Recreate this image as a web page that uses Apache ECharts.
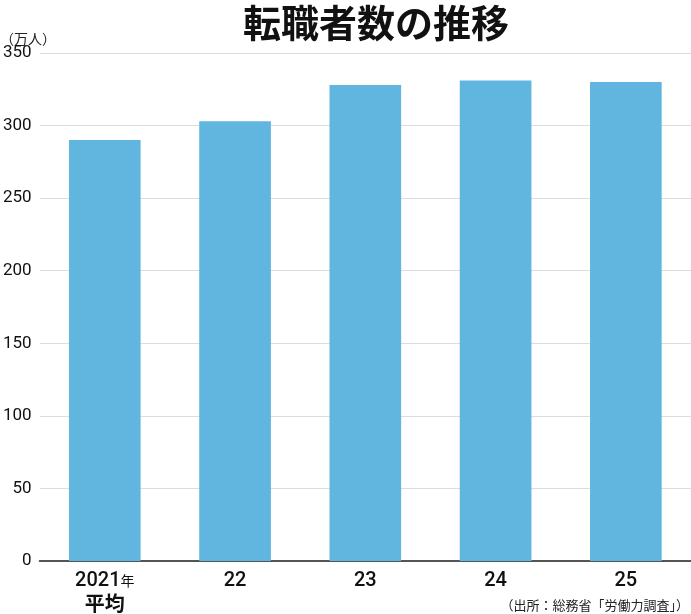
<!DOCTYPE html>
<html>
<head>
<meta charset="utf-8">
<script src="https://cdn.jsdelivr.net/npm/echarts@6/dist/echarts.min.js"></script>
<style>
  html, body { margin: 0; padding: 0; background: #fff; }
  #chart { width: 691px; height: 614px; }
</style>
</head>
<body>
<div id="chart"></div>
<script>
// 数据：年份与転職者数（万人）
const categories = ['2021', '22', '23', '24', '25'];
const values = [290, 303, 328, 331, 330];
const yTicks = [0, 50, 100, 150, 200, 250, 300, 350];

const FONT = '"Noto Sans CJK JP", "Noto Sans", sans-serif';
const chart = echarts.init(document.getElementById('chart'));

chart.setOption({
  animation: false,
  title: {
    text: '転職者数の推移',
    left: 238,
    top: -1,
    textStyle: { fontFamily: FONT, fontSize: 38, fontWeight: 'bold', color: '#111' }
  },
  graphic: [
    {
      type: 'text', left: 0, top: 32,
      style: { text: '（万人）', font: '14px ' + FONT, fill: '#222' }
    },
    {
      type: 'text', right: 2, bottom: 2,
      style: { text: '（出所：総務省「労働力調査」）', font: '13px ' + FONT, fill: '#222' }
    }
  ],
  grid: { left: 34, right: 0, top: 53, bottom: 53, containLabel: false },
  xAxis: {
    type: 'category',
    data: categories,
    axisLine: { lineStyle: { color: '#555', width: 2 } },
    axisTick: { show: false },
    axisLabel: {
      margin: 9,
      lineHeight: 22,
      formatter: (v, i) => i === 0 ? '{n|' + v + '}{s|年}\n{b|平均}' : '{n|' + v + '}',
      rich: {
        n: { fontFamily: 'Roboto, sans-serif', fontSize: 20, fontWeight: 500, color: '#111' },
        s: { fontFamily: FONT, fontSize: 14, color: '#111', verticalAlign: 'middle' },
        b: { fontFamily: FONT, fontSize: 20, fontWeight: 'bold', color: '#111' }
      }
    }
  },
  yAxis: {
    type: 'value',
    min: yTicks[0],
    max: yTicks[yTicks.length - 1],
    interval: 50,
    axisLine: { show: false },
    axisTick: { show: false },
    splitLine: { lineStyle: { color: '#dcdcdc', width: 1 } },
    axisLabel: {
      margin: 8,
      fontFamily: 'Roboto, sans-serif',
      fontSize: 17,
      color: '#111'
    }
  },
  series: [{
    type: 'bar',
    data: values,
    barWidth: '55%',
    itemStyle: { color: '#60b6df' }
  }]
});
</script>
</body>
</html>
